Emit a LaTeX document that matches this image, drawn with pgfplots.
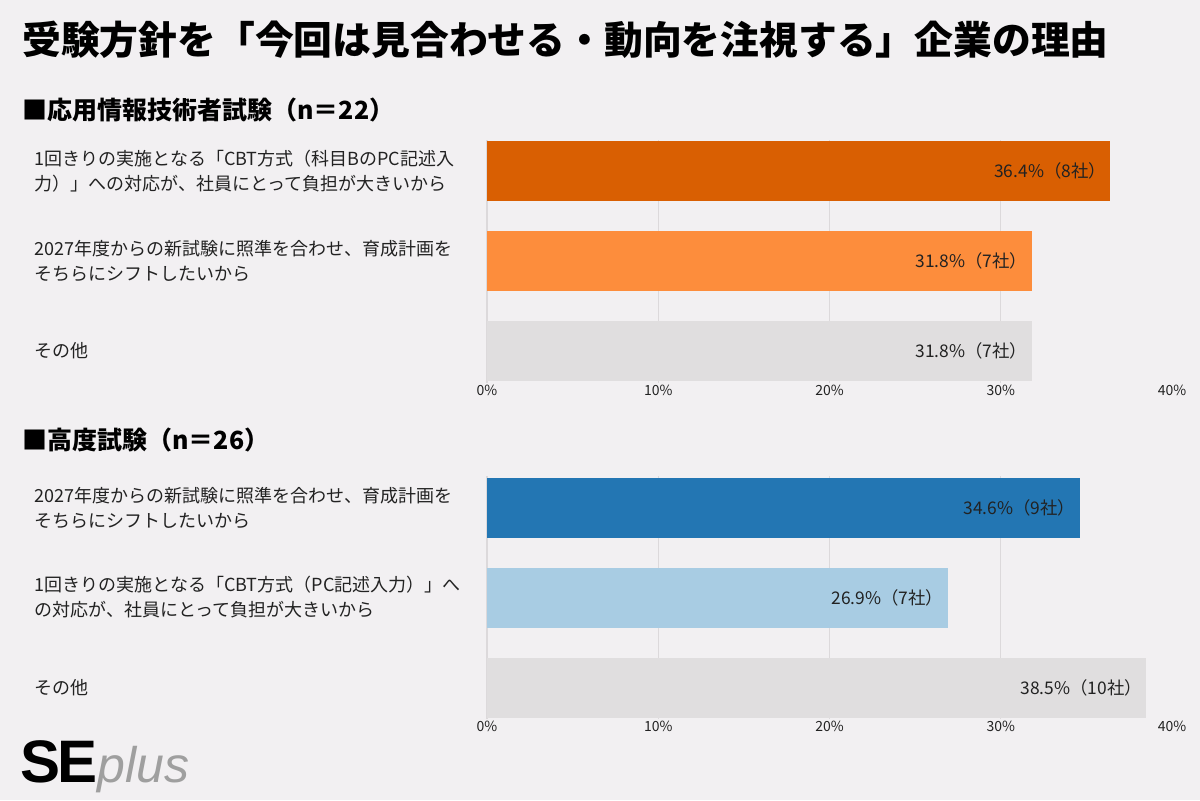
\documentclass[border=0pt]{standalone}
\usepackage{pgfplots}
\pgfplotsset{compat=1.18}
\usepackage{fontspec}
\setmainfont{Noto Sans CJK JP}
\definecolor{bg}{HTML}{F2F0F2}
\definecolor{dorange}{HTML}{D95F02}
\definecolor{lorange}{HTML}{FD8D3C}
\definecolor{gbar}{HTML}{E0DEDF}
\definecolor{dblue}{HTML}{2376B3}
\definecolor{lblue}{HTML}{A8CCE3}
\definecolor{gridc}{HTML}{DCD9DB}
\definecolor{txt}{HTML}{222222}
\pgfplotsset{myax/.style={
  xbar, bar width=30pt, bar shift=0pt,
  scale only axis, width=342.5pt, height=121.5pt,
  xmin=0, xmax=40, ymin=-0.35, ymax=2.35,
  axis line style={draw=none},
  major tick length=0pt,
  xtick={0,10,20,30,40}, xticklabels={0\%,10\%,20\%,30\%,40\%},
  xticklabel style={font=\fontsize{7}{8}\selectfont, text=txt, inner sep=1pt, yshift=0pt},
  ytick={0,1,2},
  yticklabel style={font=\fontsize{9}{12.5}\selectfont, text width=216pt, align=left, anchor=east, inner sep=0pt, xshift=-10pt, text=txt},
  extra x ticks={0,10,20,30}, extra x tick labels={},
  extra x tick style={grid=major, major grid style={gridc, line width=0.6pt}},
  nodes near coords, point meta=explicit symbolic,
  every node near coord/.append style={anchor=east, xshift=-1pt, inner sep=1pt, font=\fontsize{8.7}{10}\selectfont, text=txt},
  clip=false,
}}
\begin{document}
\begin{tikzpicture}
\fill[bg] (0,0) rectangle (600pt,400pt);
\path[use as bounding box] (0,0) rectangle (600pt,400pt);
\node[anchor=west, inner sep=0pt, text=black] at (11pt,380pt) {\bfseries\fontsize{19.4}{22}\selectfont 受験方針を「今回は見合わせる・動向を注視する」企業の理由};
\node[anchor=west, inner sep=0pt, text=black] at (11pt,345pt) {\bfseries\fontsize{12.5}{14}\selectfont ■応用情報技術者試験（n＝22）};
\node[anchor=west, inner sep=0pt, text=black] at (11pt,180pt) {\bfseries\fontsize{12.5}{14}\selectfont ■高度試験（n＝26）};

\begin{axis}[myax, at={(243.5pt,208.75pt)}, anchor=south west,
  yticklabels={{その他},{2027年度からの新試験に照準を合わせ、育成計画を\\そちらにシフトしたいから},{1回きりの実施となる「CBT方式（科目BのPC記述入\\力）」への対応が、社員にとって負担が大きいから}}]
\addplot[fill=dorange, draw=none] coordinates {(36.4,2) [36.4\%（8社）]};
\addplot[fill=lorange, draw=none] coordinates {(31.8,1) [31.8\%（7社）]};
\addplot[fill=gbar, draw=none] coordinates {(31.8,0) [31.8\%（7社）]};
\end{axis}

\begin{axis}[myax, at={(243.5pt,40.5pt)}, anchor=south west,
  yticklabels={{その他},{1回きりの実施となる「CBT方式（PC記述入力）」へ\\の対応が、社員にとって負担が大きいから},{2027年度からの新試験に照準を合わせ、育成計画を\\そちらにシフトしたいから}}]
\addplot[fill=dblue, draw=none] coordinates {(34.6,2) [34.6\%（9社）]};
\addplot[fill=lblue, draw=none] coordinates {(26.9,1) [26.9\%（7社）]};
\addplot[fill=gbar, draw=none] coordinates {(38.5,0) [38.5\%（10社）]};
\end{axis}

\node[anchor=base west, inner sep=0pt] at (10pt,9pt) {\fontspec{Liberation Sans}\bfseries\fontsize{30}{30}\selectfont\color{black}S\kern-1.5pt E{\mdseries\itshape\color{gray!75}\fontsize{25}{26}\selectfont plus}};
\end{tikzpicture}
\end{document}
